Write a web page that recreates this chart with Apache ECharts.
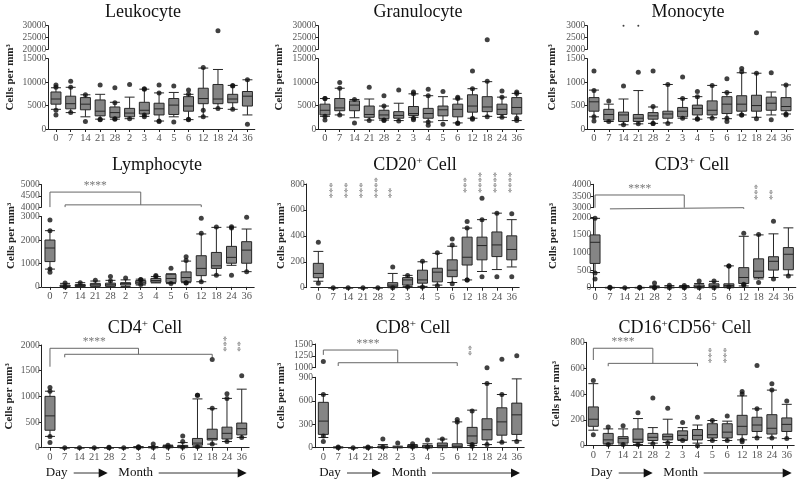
<!DOCTYPE html>
<html><head><meta charset="utf-8">
<script src="https://cdn.jsdelivr.net/npm/echarts@6.0.0/dist/echarts.min.js"></script>
<style>html,body{margin:0;padding:0;background:#fff}#c{width:800px;height:483px}</style>
</head><body><div id="c"></div>
<script>
// ---------- DATA ----------
const categories = ['0','7','14','21','28','2','3','4','5','6','12','18','24','36'];

// box = [lower whisker, Q1, median, Q3, upper whisker]; out = [category index, value]
const leukBox = [[4200,5300,6400,7900,8800],[3500,4300,5400,7000,8900],[2600,4100,5300,6700,7300],[2100,2800,3800,6200,7400],[2100,2500,3500,4700,5700],[2200,2600,3400,4400,6800],[2700,3200,4000,5700,8500],[1700,3000,4300,5500,7700],[2600,3100,5100,6500,7800],[2000,3800,4900,6900,7400],[2600,5400,6500,8700,13000],[4400,5400,6400,9500,12700],[4200,5600,6400,7400,9300],[3000,4900,7000,8000,10500]];
const leukOut = [[0,9400],[0,8900],[0,4000],[0,3000],[1,10200],[1,8900],[1,3500],[2,7300],[2,1600],[3,9400],[3,2100],[3,2000],[4,8800],[4,5600],[4,2100],[4,2200],[5,9500],[5,2200],[6,8600],[6,8500],[6,2600],[6,3000],[7,9400],[7,7700],[7,1600],[7,1700],[8,9200],[8,1500],[9,8300],[9,7400],[9,2000],[9,2100],[10,13100],[10,4000],[10,2600],[11,4400],[12,9300],[12,9200],[12,4200],[13,10500],[13,1000]];
const leukHigh = [[11,27900]];
const leukTicksLow = [0,5000,10000,15000];
const leukTicksHigh = [20000,25000,30000];

const granBox = [[2700,3000,4000,5300,6500],[3000,3900,4500,6500,8700],[2400,3900,5100,6000,6300],[1900,2500,3100,4900,6400],[1900,2200,3000,4000,4900],[1800,2300,2900,3700,5500],[2500,2900,3300,4800,7500],[1500,2300,3300,4400,7100],[1800,2800,4100,4900,6900],[1300,2600,4200,5300,6400],[2300,3600,4900,7300,8600],[2700,3700,4700,6900,10100],[2500,3100,4200,5300,6800],[1800,3200,4600,6700,7600]];
const granOut = [[0,6500],[0,6500],[0,1900],[0,2700],[1,9900],[1,8700],[1,3000],[2,6300],[2,1300],[3,8900],[3,1800],[4,7100],[4,4900],[4,1800],[4,1900],[5,8300],[5,1700],[6,7900],[6,7500],[6,2300],[6,2000],[7,8500],[7,7100],[7,1500],[7,800],[8,8000],[8,1000],[9,6800],[9,6500],[9,1200],[9,1300],[10,12400],[10,8600],[10,2100],[10,2300],[11,10200],[11,2600],[12,8100],[12,6800],[12,2500],[13,7900],[13,7600],[13,2300],[13,1800]];
const granHigh = [[11,24000]];
const granTicksLow = [0,5000,10000,15000];
const granTicksHigh = [20000,25000,30000];

const monoBox = [[260,380,580,670,830],[160,190,310,420,530],[90,160,300,360,640],[110,160,230,310,820],[120,210,280,350,470],[130,230,320,380,950],[230,260,380,460,650],[210,300,440,510,690],[240,300,400,600,930],[220,330,530,690,780],[300,380,530,710,1200],[250,380,500,720,1190],[300,400,550,680,790],[320,390,480,670,940]];
const monoOut = [[0,1240],[0,820],[0,260],[0,170],[1,600],[1,160],[2,920],[2,90],[3,1210],[3,110],[4,1240],[4,480],[4,120],[4,120],[5,950],[5,120],[6,1110],[6,650],[6,230],[7,800],[7,690],[7,220],[7,210],[8,930],[8,230],[9,1070],[9,780],[9,230],[9,160],[10,1290],[10,1220],[10,300],[10,300],[11,1190],[11,220],[12,1200],[12,200],[13,940],[13,320],[13,300]];
const monoHigh = [[11,2700]];
const monoClipped = [[2,3000],[3,3000]];
const monoTicksLow = [0,500,1000,1500];
const monoTicksHigh = [2000,2500,3000];

const lymphBox = [[760,1080,1660,2000,2400],[0,10,40,80,150],[0,20,60,100,180],[0,30,90,150,250],[0,30,90,160,280],[20,80,140,180,300],[80,120,200,270,330],[170,200,270,360,440],[140,190,360,540,560],[180,220,400,640,1100],[220,480,790,1330,2260],[500,790,900,1470,2540],[920,1010,1260,1730,2550],[650,1010,1570,1930,2470]];
const lymphOut = [[0,2860],[0,2400],[0,760],[0,620],[1,170],[1,0],[2,180],[3,280],[4,440],[4,250],[5,380],[6,320],[6,310],[6,100],[7,490],[7,440],[8,800],[8,150],[9,1290],[9,1130],[9,180],[9,170],[10,2930],[10,2290],[10,220],[11,2560],[11,500],[12,2570],[12,2510],[12,500],[13,2970],[13,650]];
const lymphTicksLow = [0,1000,2000,3000];
const lymphTicksHigh = [4000,4500,5000];
const lymphBracket = {a:0, b:6, top:4670, legLow:4000, c:1, d:10, low:4100, tickLow:4000, stars:'****'};

const cd20Box = [[50,77,110,188,280],[0,0,0,0,0],[0,0,0,0,0],[0,0,0,0,0],[0,0,0,0,0],[0,8,20,39,110],[10,20,60,78,95],[10,35,60,135,200],[20,45,120,150,265],[40,85,135,215,320],[60,175,235,390,460],[125,215,325,390,525],[140,240,330,430,575],[160,215,295,400,525]];
const cd20Out = [[0,350],[0,35],[1,0],[2,0],[3,0],[4,0],[5,160],[5,0],[6,95],[6,5],[7,205],[7,5],[8,270],[8,15],[9,375],[9,330],[9,30],[10,510],[10,460],[10,60],[10,60],[11,690],[11,525],[11,85],[12,575],[12,85],[13,570],[13,85]];
const cd20Ticks = [0,200,400,600,800];
const cd20Stars = [[1,690,'***'],[2,690,'***'],[3,690,'***'],[4,690,'****'],[5,690,'**'],[10,730,'***'],[11,730,'****'],[12,730,'****'],[13,730,'****']];

const cd3Box = [[430,690,1290,1500,1970],[0,0,0,5,10],[0,0,0,0,0],[0,0,0,5,10],[0,0,10,30,50],[0,0,5,20,60],[0,5,20,40,60],[0,0,30,80,120],[0,20,50,110,180],[0,20,60,110,620],[50,120,290,570,1460],[250,290,470,820,1500],[290,500,750,880,1530],[360,510,950,1140,1700]];
const cd3Out = [[0,1970],[0,420],[0,250],[1,0],[1,15],[2,0],[3,0],[3,10],[4,130],[4,0],[4,10],[5,70],[5,0],[6,60],[6,10],[6,0],[7,190],[7,0],[8,190],[8,0],[9,620],[9,620],[9,30],[10,1550],[10,95],[10,80],[11,1510],[11,150],[12,1890],[12,250],[13,330]];
const cd3TicksLow = [0,500,1000,1500,2000];
const cd3TicksHigh = [3000,3500,4000];
const cd3Bracket = {a:0, b:6, top:3543, legLow:3000, c:1, d:10, low:3000, tickLow:2950, stars:'****'};
const cd3Stars = [[11,3330,'***'],[12,3330,'**']];

const cd4Box = [[220,340,620,1000,1100],[0,0,0,0,0],[0,0,0,0,0],[0,0,0,0,0],[0,0,0,0,0],[0,0,0,0,0],[0,0,5,15,20],[0,0,5,15,20],[0,10,20,40,50],[0,10,25,45,100],[20,50,90,180,950],[70,150,180,360,760],[120,170,280,400,960],[200,250,370,480,1140]];
const cd4Out = [[0,1170],[0,1100],[0,220],[0,100],[1,0],[2,0],[3,0],[4,0],[4,10],[5,0],[6,10],[6,0],[6,20],[7,70],[7,5],[8,50],[8,10],[9,230],[9,120],[9,10],[10,1020],[10,1020],[10,20],[11,1720],[11,770],[11,70],[12,1050],[12,960],[12,120],[13,1400],[13,200]];
const cd4Ticks = [0,500,1000,1500,2000];
const cd4Bracket = {a:0, b:6, top:1936, legLow:1577, c:1, d:11, low:1819, tickLow:1760, stars:'****'};
const cd4Stars = [[12,1870,'***'],[13,1870,'**']];

const cd8Box = [[130,170,340,580,680],[0,0,0,5,10],[0,0,0,0,0],[0,0,0,5,10],[0,0,5,20,40],[0,0,5,10,20],[0,5,15,30,40],[0,0,10,30,50],[0,10,30,60,110],[0,10,20,50,330],[30,55,150,260,480],[40,100,230,370,820],[70,160,330,510,680],[90,170,420,570,880]];
const cd8Out = [[0,680],[0,150],[0,80],[1,0],[1,10],[2,0],[3,0],[3,10],[4,110],[4,10],[5,60],[6,50],[6,10],[7,100],[7,10],[8,110],[9,360],[9,330],[10,470],[10,20],[10,40],[11,820],[11,40],[12,680],[12,70],[13,80]];
const cd8High = [[0,1130],[11,1000],[12,1180],[13,1250]];
const cd8TicksLow = [0,300,600,900];
const cd8TicksHigh = [1000,1250,1500];
const cd8Bracket = {a:0, b:5, top:1373, legLow:1270, c:1, d:9, low:1105, tickLow:1036, stars:'****'};
const cd8Stars = [[10,1250,'**']];

const cd16Box = [[120,150,205,300,480],[5,15,45,95,130],[5,20,55,70,130],[10,25,50,130,210],[20,40,65,95,140],[25,45,70,90,205],[40,45,80,115,140],[20,45,80,125,160],[40,60,85,170,195],[40,60,105,170,190],[45,85,150,235,385],[65,110,160,220,285],[60,90,135,240,430],[55,110,165,215,320]];
const cd16Out = [[0,505],[0,85],[1,145],[1,10],[2,155],[2,10],[3,255],[3,10],[4,370],[4,15],[5,290],[5,20],[6,180],[6,40],[7,220],[7,0],[8,195],[8,40],[9,230],[9,40],[10,420],[10,400],[10,45],[10,30],[11,620],[11,285],[11,60],[12,480],[12,430],[12,60],[13,345],[13,55]];
const cd16Ticks = [0,200,400,600,800];
const cd16Bracket = {a:0, b:4, top:754, legLow:663, c:1, d:7, low:637, tickLow:615, stars:'****'};
const cd16Stars = [[8,637,'***'],[9,637,'***']];

// ---------- LAYOUT ----------
const FONT = '"Liberation Serif","Times New Roman",serif';
const panels = [
 {title:['Leukocyte'], box:leukBox, out:leukOut, high:leukHigh, clipped:null, low:leukTicksLow, up:leukTicksHigh,
  L:{left:48.6,width:206.2,axisX:48.3,low:[58.7,129],up:[25.7,49.3],tx:143,ty:12,nx:10}},
 {title:['Granulocyte'], box:granBox, out:granOut, high:granHigh, low:granTicksLow, up:granTicksHigh,
  L:{left:317.6,width:206.5,axisX:318.3,low:[58.7,129],up:[25.7,49.3],tx:418,ty:12,nx:279}},
 {title:['Monocyte'], box:monoBox, out:monoOut, high:monoHigh, clipped:monoClipped, low:monoTicksLow, up:monoTicksHigh,
  L:{left:586.6,width:206.8,axisX:587.3,low:[58.7,129],up:[25.7,49.3],tx:688,ty:12,nx:552}},
 {title:['Lymphocyte'], box:lymphBox, out:lymphOut, low:lymphTicksLow, up:lymphTicksHigh, bracket:lymphBracket, bracketUp:true,
  L:{left:42.4,width:211.8,axisX:41.7,low:[216.6,286.9],up:[184.7,207.1],tx:157,ty:165,nx:11}},
 {title:['CD20','+',' Cell'], box:cd20Box, out:cd20Out, low:cd20Ticks, stars:cd20Stars,
  L:{left:310.9,width:208.3,axisX:306.7,low:[184,287.7],tx:415,ty:165,nx:281}},
 {title:['CD3','+',' Cell'], box:cd3Box, out:cd3Out, low:cd3TicksLow, up:cd3TicksHigh, bracket:cd3Bracket, bracketUp:true, stars:cd3Stars, starsUp:true,
  L:{left:587.6,width:208.2,axisX:593.3,low:[217.3,287.7],up:[184.3,207.7],tx:692,ty:165,nx:553}},
 {title:['CD4','+',' Cell'], box:cd4Box, out:cd4Out, low:cd4Ticks, bracket:cd4Bracket, stars:cd4Stars, arrows:true,
  L:{left:42.6,width:206.5,axisX:41.7,low:[345,447.7],tx:145,ty:328,nx:9}},
 {title:['CD8','+',' Cell'], box:cd8Box, out:cd8Out, high:cd8High, low:cd8TicksLow, up:cd8TicksHigh, bracket:cd8Bracket, bracketUp:true, stars:cd8Stars, starsUp:true, arrows:true,
  L:{left:315.9,width:208.3,axisX:315,low:[377.3,447.7],up:[344,367.7],tx:413,ty:328,nx:281}},
 {title:['CD16','+','CD56','+',' Cell'], box:cd16Box, out:cd16Out, low:cd16Ticks, bracket:cd16Bracket, stars:cd16Stars, arrows:true,
  L:{left:585.9,width:208.3,axisX:586.7,low:[342.3,445.7],tx:685,ty:328,nx:556}}
];

const grids=[], xAxes=[], yAxes=[], series=[], graphics=[];
const AX = '#222', LBL = '#555';

function addGrid(L, range, ticks, showX){
  const gi = grids.length;
  grids.push({left:L.left, width:L.width, top:range[0], height:range[1]-range[0], outerBoundsMode:'none', containLabel:false});
  xAxes.push({type:'category', gridIndex:gi, data:categories, show:showX, boundaryGap:true,
    axisLine:{show:true, lineStyle:{color:AX, width:1}},
    axisTick:{show:true, alignWithLabel:true, length:3, lineStyle:{color:AX}},
    axisLabel:{interval:0, color:LBL, fontSize:10.5, fontFamily:FONT, margin:4},
    splitLine:{show:false}});
  yAxes.push({type:'value', gridIndex:gi, min:ticks[0], max:ticks[ticks.length-1], interval:ticks[1]-ticks[0],
    offset:L.left-L.axisX,
    axisLine:{show:true, lineStyle:{color:AX, width:1}},
    axisTick:{show:true, length:3, lineStyle:{color:AX}},
    axisLabel:{color:LBL, fontSize:9.5, fontFamily:FONT, margin:2, showMinLabel:true, showMaxLabel:true, formatter:v=>String(v)},
    splitLine:{show:false}});
  return gi;
}
function scatter(gi, data, size){
  series.push({type:'scatter', xAxisIndex:gi, yAxisIndex:gi, data:data, symbolSize:size, silent:true,
    itemStyle:{color:'#111'}, clip:false, z:5});
}
function bracket(gi, b){
  const ls = {color:'#666', width:1};
  series.push({type:'line', xAxisIndex:gi, yAxisIndex:gi, data:[[b.a,b.legLow],[b.a,b.top],[b.b,b.top],[b.b,b.low]],
    symbol:'none', lineStyle:ls, clip:false, silent:true, animation:false});
  series.push({type:'line', xAxisIndex:gi, yAxisIndex:gi, data:[[b.c,b.tickLow],[b.c,b.low],[b.d,b.low],[b.d,b.tickLow]],
    symbol:'none', lineStyle:ls, clip:false, silent:true, animation:false});
  series.push({type:'scatter', xAxisIndex:gi, yAxisIndex:gi, data:[[(b.a+b.b)/2, b.top, b.stars]], symbolSize:1,
    itemStyle:{color:'transparent'}, clip:false, silent:true,
    label:{show:true, position:'top', distance:0, formatter:p=>p.data[2], color:LBL, fontSize:11.5, fontFamily:FONT}});
}
function rotStars(gi, data){
  series.push({type:'scatter', xAxisIndex:gi, yAxisIndex:gi, data:data, symbolSize:1,
    itemStyle:{color:'transparent'}, clip:false, silent:true,
    label:{show:true, position:'inside', align:'left', verticalAlign:'middle', rotate:90, formatter:p=>p.data[2], color:LBL, fontSize:10.5, fontFamily:FONT}});
}

panels.forEach(p=>{
  const L = p.L;
  const gLow = addGrid(L, L.low, p.low, true);
  series.push({type:'boxplot', xAxisIndex:gLow, yAxisIndex:gLow, data:p.box, boxWidth:[10,10], silent:true,
    itemStyle:{color:'#858585', borderColor:'#262626', borderWidth:1}});
  scatter(gLow, p.out, 5);
  let gUp = null;
  if (p.up){
    gUp = addGrid(L, L.up, p.up, false);
    if (p.high) scatter(gUp, p.high, 5);
    if (p.clipped) scatter(gUp, p.clipped, 2);
  }
  if (p.bracket) bracket(p.bracketUp ? gUp : gLow, p.bracket);
  if (p.stars) rotStars(p.starsUp ? gUp : gLow, p.stars);

  // title (with superscript "+")
  let txt = '';
  p.title.forEach(t=>{ txt += (t==='+') ? '{s|+}' : '{a|'+t+'}'; });
  graphics.push({type:'text', x:L.tx, y:L.ty, silent:true, style:{text:txt, align:'center', verticalAlign:'middle',
    rich:{a:{fontSize:18, fontFamily:FONT, fill:'#111'}, s:{fontSize:11, fontFamily:FONT, fill:'#111', verticalAlign:'top'}}}});
  // y-axis title
  const top = p.up ? L.up[0] : L.low[0];
  graphics.push({type:'text', x:L.nx, y:(top+L.low[1])/2, rotation:Math.PI/2, silent:true,
    style:{text:'Cells per mm³', font:'bold 11px '+FONT, fill:'#222', align:'center', verticalAlign:'middle'}});
  if (p.arrows){
    const x0 = L.axisX, y = 473;
    graphics.push({type:'text', x:x0+15, y:y, silent:true, style:{text:'Day', font:'13px '+FONT, fill:'#111', align:'center', verticalAlign:'middle'}});
    graphics.push({type:'text', x:x0+94, y:y, silent:true, style:{text:'Month', font:'13px '+FONT, fill:'#111', align:'center', verticalAlign:'middle'}});
    [[x0+32,x0+66],[x0+117,x0+205]].forEach(a=>{
      graphics.push({type:'line', silent:true, shape:{x1:a[0], y1:y, x2:a[1]-8, y2:y}, style:{stroke:'#333', lineWidth:1}});
      graphics.push({type:'polygon', silent:true, shape:{points:[[a[1]-9,y-4.5],[a[1],y],[a[1]-9,y+4.5]]}, style:{fill:'#111'}});
    });
  }
});

const chart = echarts.init(document.getElementById('c'), null, {renderer:'canvas'});
chart.setOption({animation:false, backgroundColor:'#fff', grid:grids, xAxis:xAxes, yAxis:yAxes, series:series, graphic:graphics});
</script></body></html>
